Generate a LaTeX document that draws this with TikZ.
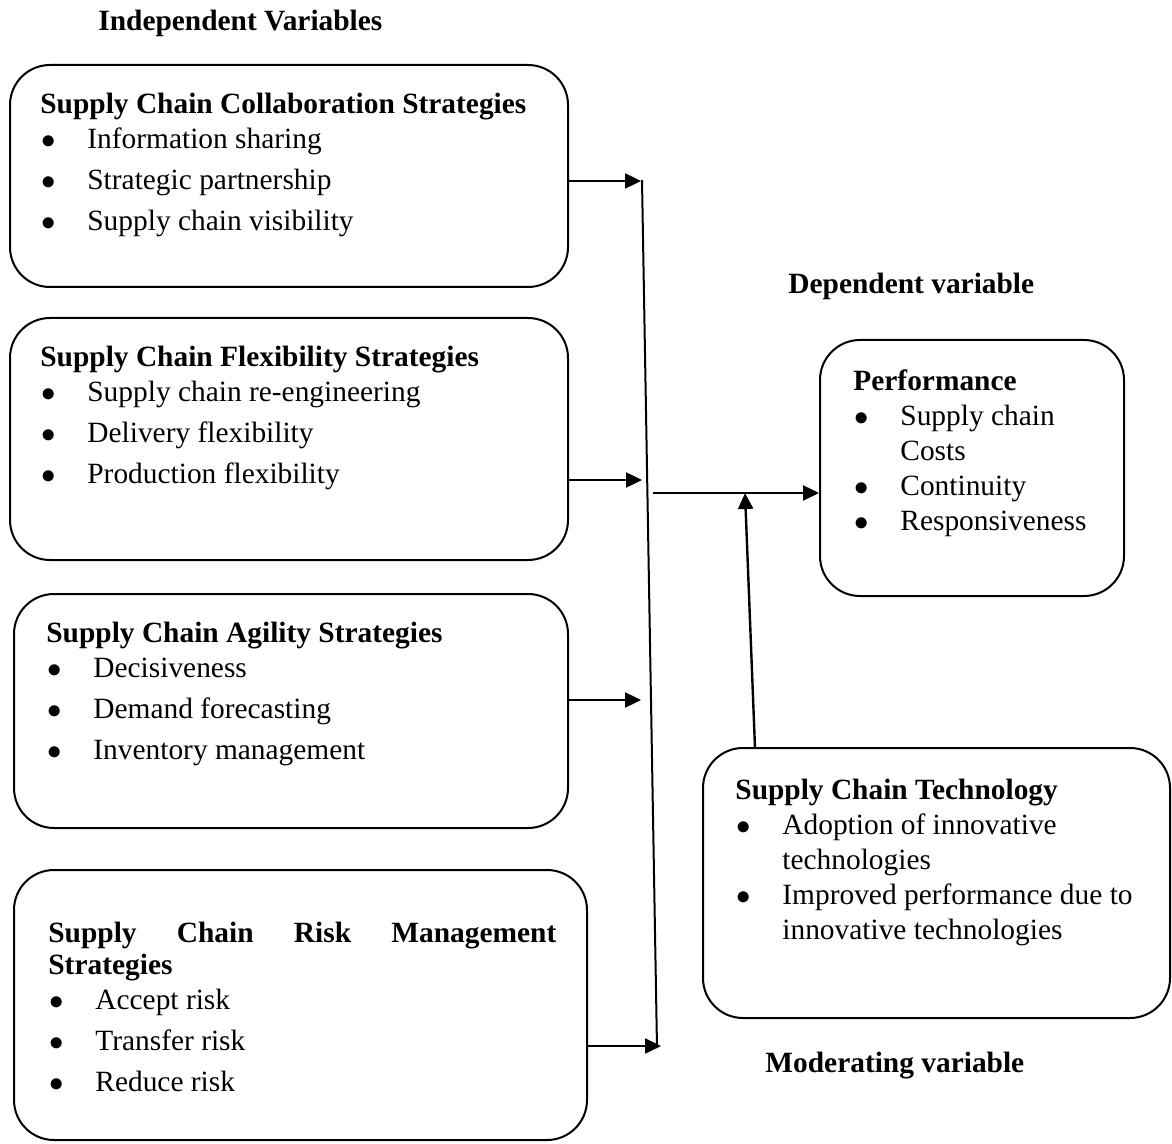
\documentclass[tikz,border=0pt]{standalone}
\usepackage{fontspec}
\setmainfont{Liberation Serif}
\usetikzlibrary{arrows.meta,positioning,calc}
\tikzset{%
	varbox/.style = {draw, line width=1pt, rounded corners=20pt, inner sep=0pt},
	boxtext/.style= {anchor=north west, inner sep=0pt, align=left, font=\fontsize{14.7}{17.5}\selectfont},
	varlabel/.style={anchor=base west, inner sep=0pt, font=\fontsize{14.7}{17.5}\selectfont\bfseries},
	arrow/.style  = {line width=1.2pt, -{Triangle[length=8pt,width=7.5pt]}},
}
\newcommand{\bul}[1]{\hspace*{0.5pt}\makebox[23pt][l]{$\bullet$}#1}
\newcommand{\cont}[1]{\hspace*{23.5pt}#1}

\begin{document}
\begin{tikzpicture}[x=0.5pt,y=-0.5pt]
		\useasboundingbox (0,0) rectangle (1172,1144);
		
		% headings of the variable groups
		\node[varlabel] (indep) at (98,31) {Independent Variables};
		\node[varlabel] (dep) at (788,294) {Dependent variable};
		\node[varlabel] (mod) at (765,1072) {Moderating variable};
		
		% independent variables
		\node[varbox, minimum width=279pt, minimum height=111pt] (collab) at (289,176) {};
		\node[varbox, minimum width=279pt, minimum height=121pt] (flex) at (289,439) {};
		\node[varbox, minimum width=277pt, minimum height=117pt] (agile) at (291,711) {};
		\node[varbox, minimum width=286.5pt, minimum height=135pt] (risk) at (300.5,1005) {};
		
		\node[boxtext] (collabtxt) at (40,93) {\textbf{Supply Chain Collaboration Strategies}\\
			\bul{Information sharing}\\[3pt]
			\bul{Strategic partnership}\\[3pt]
			\bul{Supply chain visibility}};
		\node[boxtext] (flextxt) at (40,346) {\textbf{Supply Chain Flexibility Strategies}\\
			\bul{Supply chain re-engineering}\\[3pt]
			\bul{Delivery flexibility}\\[3pt]
			\bul{Production flexibility}};
		\node[boxtext] (agiletxt) at (46,622) {\textbf{Supply Chain Agility Strategies}\\
			\bul{Decisiveness}\\[3pt]
			\bul{Demand forecasting}\\[3pt]
			\bul{Inventory management}};
		\node[boxtext] (risktxt) at (48,922) {\textbf{\makebox[254pt][s]{Supply Chain Risk Management}}\\[-1.5pt]
			\textbf{Strategies}\\
			\bul{Accept risk}\\[3pt]
			\bul{Transfer risk}\\[3pt]
			\bul{Reduce risk}};
		
		% dependent and moderating variables
		\node[varbox, minimum width=152pt, minimum height=128pt] (perf) at (972,468) {};
		\node[varbox, minimum width=233.5pt, minimum height=135pt] (tech) at (936.5,883) {};
		
		\node[boxtext] (perftxt) at (853,369) {\textbf{Performance}\\
			\bul{Supply chain}\\
			\cont{Costs}\\
			\bul{Continuity}\\
			\bul{Responsiveness}};
		\node[boxtext] (techtxt) at (735,779) {\textbf{Supply Chain Technology}\\
			\bul{Adoption of innovative}\\
			\cont{technologies}\\
			\bul{Improved performance due to}\\
			\cont{innovative technologies}};
		
		% collecting line
		\coordinate (vtop) at (642,180);
		\coordinate (vbot) at (657,1048);
		\draw[line width=1pt] (vtop) -- (vbot);
		
		\coordinate (e1) at (641,181);
		\coordinate (e2) at (642,480);
		\coordinate (e3) at (641,700);
		\coordinate (e4) at (661,1046);
		\draw[arrow] (collab.east |- e1) -- (e1);
		\draw[arrow] (flex.east |- e2) -- (e2);
		\draw[arrow] (agile.east |- e3) -- (e3);
		\draw[arrow] (risk.east |- e4) -- (e4);
		
		% to performance, moderated by technology
		\coordinate (join) at (653,493);
		\coordinate (mtop) at (745,493);
		\coordinate (mbot) at (755,748);
		\draw[arrow] (join) -- (perf.west |- join);
		\draw[arrow] (mbot) -- (mtop);
\end{tikzpicture}
\end{document}
